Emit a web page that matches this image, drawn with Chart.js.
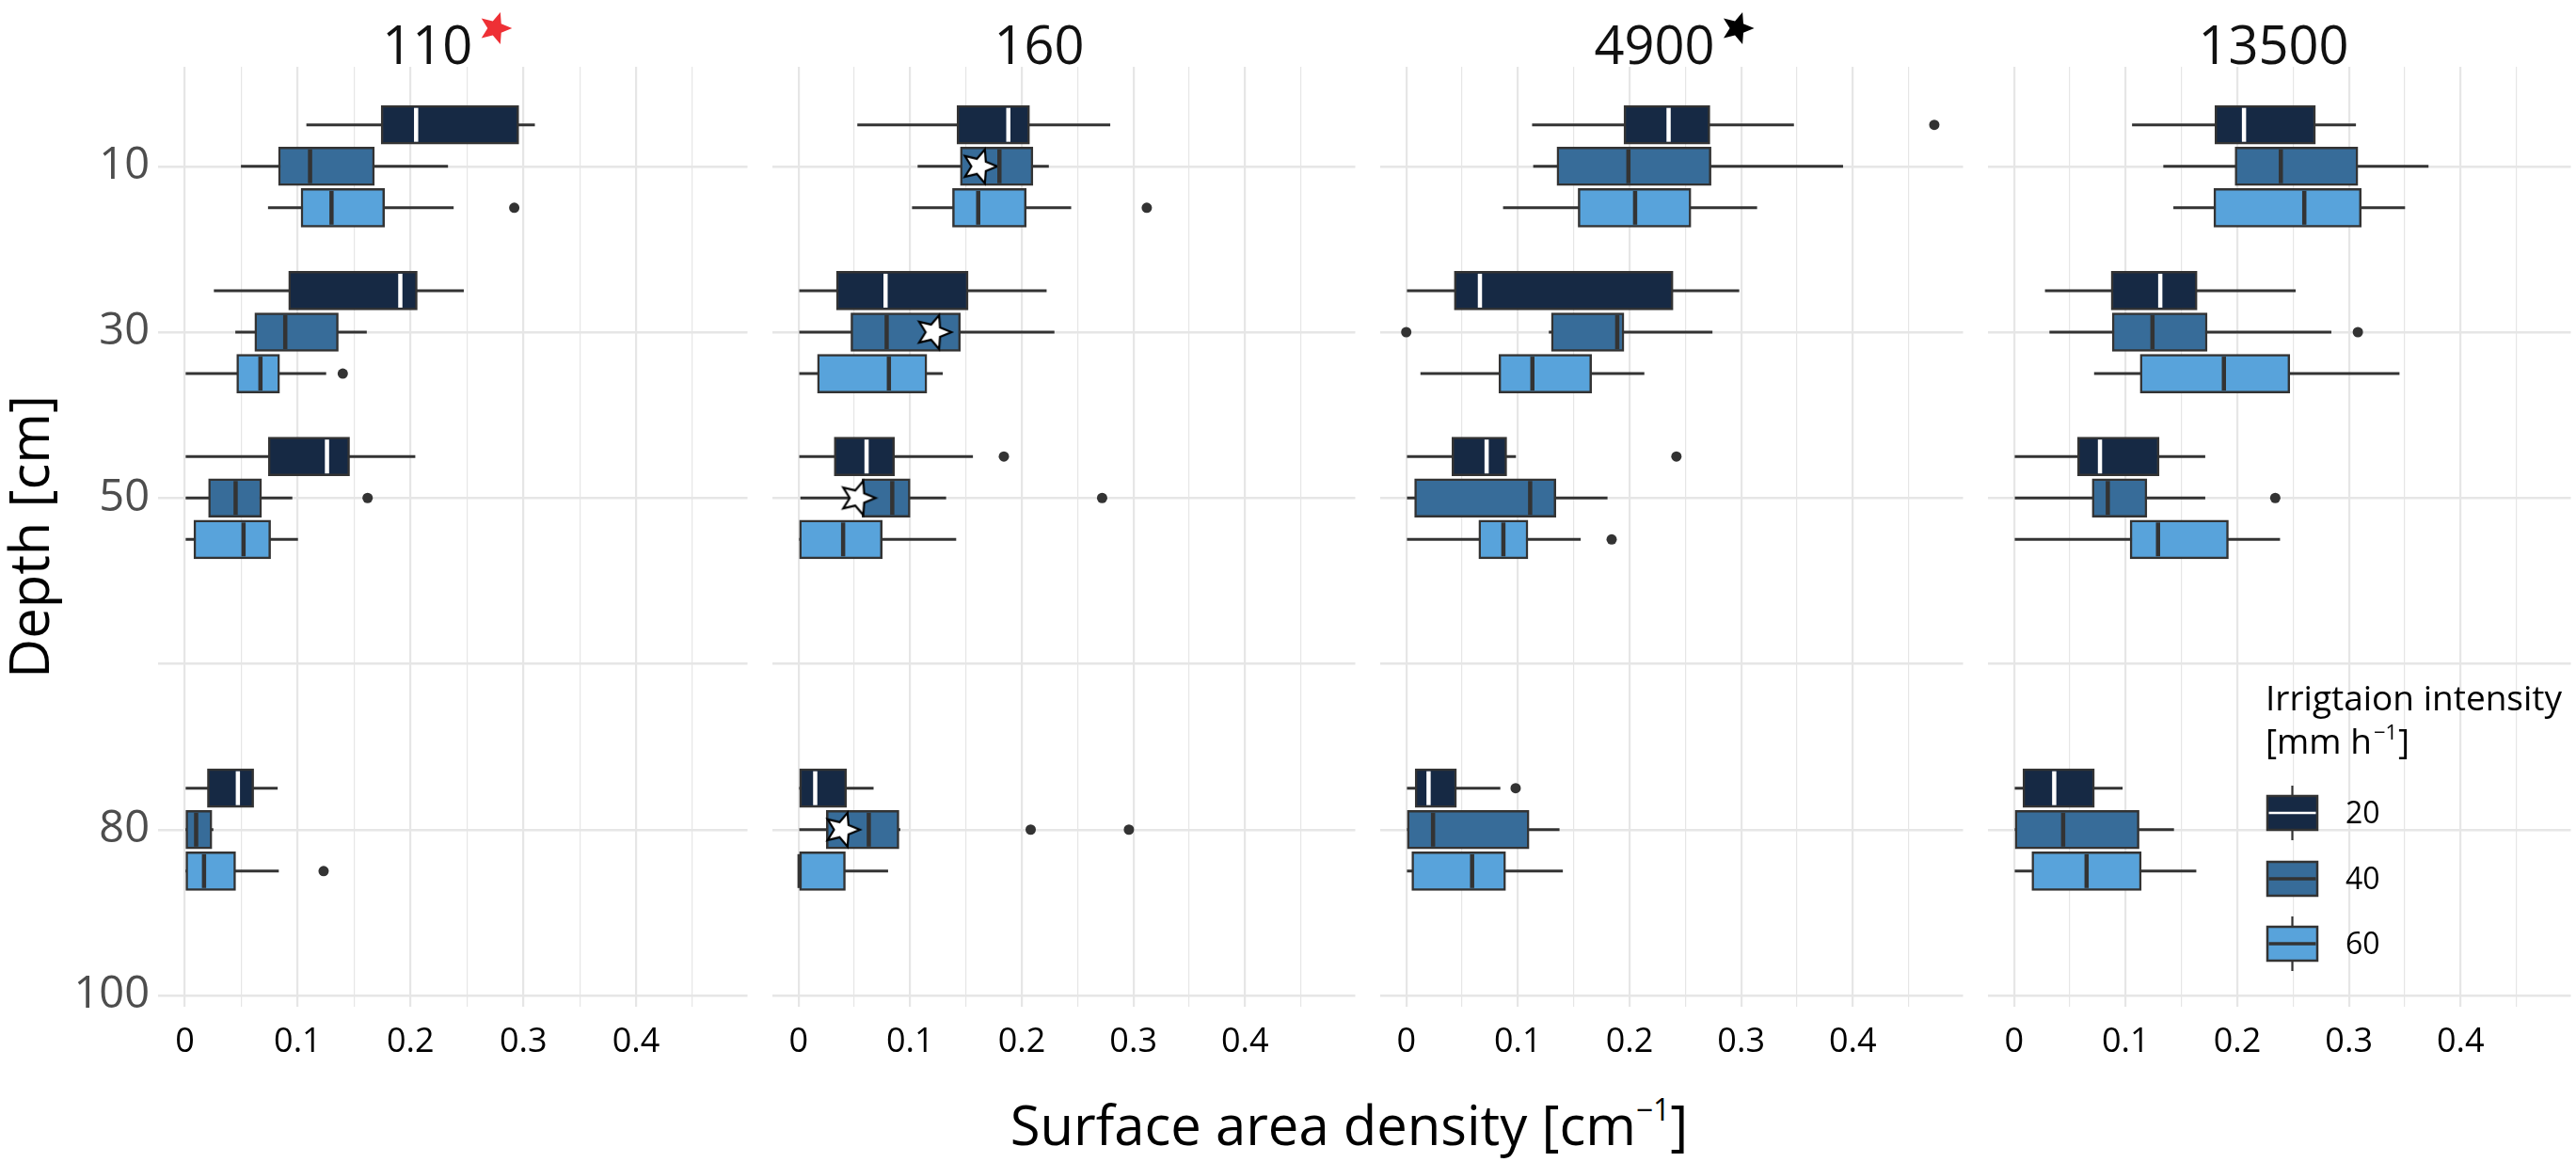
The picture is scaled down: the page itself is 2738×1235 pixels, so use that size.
<!DOCTYPE html>
<html>
<head>
<meta charset="UTF-8">
<title>Surface area density by depth</title>
<script src="https://cdn.jsdelivr.net/npm/chart.js@4.4.1/dist/chart.umd.min.js"></script>
<style>
  body { margin: 0; background: #fff; }
  #wrap { position: relative; width: 2738px; height: 1235px; overflow: hidden; font-family: 'Open Sans', 'DejaVu Sans', sans-serif; }
  #wrap canvas { position: absolute; top: 0; }
  #xTitle { position: absolute; left: 1434px; top: 1166px; transform: translateX(-50%); white-space: nowrap;
            font-size: 58px; line-height: 58px; color: #000; }
  #xTitle sup { font-size: 0.55em; line-height: 0; vertical-align: 0.8em; }
</style>
</head>
<body>
<div id="wrap">
  <div id="xTitle">Surface area density [cm<sup>−1</sup>]</div>
</div>

<script>
// ---- data -------------------------------------------------------------
const panelNames = ['110', '160', '4900', '13500'];
const depthLabels = ['10', '30', '50', '', '80', '100'];   // rows of the y axis
const depthRows = [0, 1, 2, 4];                           // row used by depths 10, 30, 50, 80
const intensities = ['20', '40', '60'];
const xTicks = [0, 0.05, 0.1, 0.15, 0.2, 0.25, 0.3, 0.35, 0.4, 0.45];
const xTickText = ['0', '', '0.1', '', '0.2', '', '0.3', '', '0.4', ''];

// [lower whisker, Q1, median, Q3, upper whisker] for depths 10, 30, 50, 80
const box110_20 = [[0.108, 0.174, 0.205, 0.296, 0.310], [0.026, 0.092, 0.191, 0.206, 0.247], [0.001, 0.074, 0.126, 0.146, 0.204], [0.001, 0.020, 0.047, 0.061, 0.082]];
const box110_40 = [[0.050, 0.083, 0.111, 0.168, 0.233], [0.045, 0.062, 0.089, 0.136, 0.161], [0.001, 0.021, 0.045, 0.068, 0.095], [0.000, 0.000, 0.010, 0.024, 0.025]];
const box110_60 = [[0.074, 0.103, 0.130, 0.177, 0.238], [0.001, 0.046, 0.067, 0.084, 0.125], [0.001, 0.008, 0.052, 0.076, 0.100], [0.000, 0.000, 0.017, 0.045, 0.083]];

const box160_20 = [[0.053, 0.142, 0.188, 0.207, 0.279], [0.001, 0.034, 0.078, 0.152, 0.222], [0.001, 0.032, 0.061, 0.086, 0.156], [0.000, 0.001, 0.015, 0.043, 0.067]];
const box160_40 = [[0.107, 0.145, 0.180, 0.210, 0.224], [0.001, 0.047, 0.079, 0.145, 0.229], [0.002, 0.057, 0.084, 0.100, 0.132], [0.001, 0.025, 0.063, 0.090, 0.091]];
const box160_60 = [[0.102, 0.138, 0.161, 0.204, 0.244], [0.001, 0.017, 0.081, 0.115, 0.129], [0.000, 0.000, 0.040, 0.075, 0.141], [0.000, 0.000, 0.001, 0.042, 0.080]];

const box4900_20 = [[0.113, 0.195, 0.235, 0.272, 0.347], [0.000, 0.043, 0.066, 0.239, 0.298], [0.000, 0.041, 0.072, 0.090, 0.098], [0.000, 0.008, 0.020, 0.045, 0.084]];
const box4900_40 = [[0.114, 0.135, 0.199, 0.273, 0.391], [0.128, 0.130, 0.189, 0.195, 0.274], [0.000, 0.0075, 0.111, 0.134, 0.180], [0.000, 0.000, 0.024, 0.110, 0.137]];
const box4900_60 = [[0.087, 0.154, 0.205, 0.255, 0.314], [0.013, 0.083, 0.113, 0.166, 0.213], [0.000, 0.065, 0.087, 0.109, 0.156], [0.000, 0.005, 0.059, 0.089, 0.140]];

const box13500_20 = [[0.106, 0.180, 0.206, 0.270, 0.306], [0.028, 0.087, 0.131, 0.164, 0.252], [0.000, 0.057, 0.077, 0.130, 0.171], [0.000, 0.008, 0.036, 0.072, 0.097]];
const box13500_40 = [[0.134, 0.198, 0.239, 0.308, 0.371], [0.032, 0.088, 0.124, 0.173, 0.284], [0.001, 0.070, 0.084, 0.119, 0.171], [0.000, 0.001, 0.044, 0.112, 0.143]];
const box13500_60 = [[0.143, 0.179, 0.260, 0.311, 0.350], [0.072, 0.113, 0.188, 0.247, 0.345], [0.000, 0.104, 0.129, 0.192, 0.238], [0.000, 0.016, 0.065, 0.114, 0.163]];

// outliers: [intensity index, depth index, value]
const out110 = [[1, 2, 0.162], [2, 0, 0.292], [2, 1, 0.140], [2, 3, 0.123]];
const out160 = [[0, 2, 0.184], [1, 2, 0.272], [1, 3, 0.208], [1, 3, 0.296], [2, 0, 0.312]];
const out4900 = [[0, 0, 0.473], [0, 2, 0.242], [0, 3, 0.098], [1, 1, 0.000], [2, 2, 0.184]];
const out13500 = [[1, 1, 0.308], [1, 2, 0.234]];

// star markers on the 40 mm/h boxes of panel 160, depths 10, 30, 50, 80
const star160_40 = [0.162, 0.121, 0.053, 0.039];

// ---- styling ----------------------------------------------------------
const FONT = "'Open Sans', 'DejaVu Sans', sans-serif";
Chart.defaults.font.family = FONT;
const fills = ['#162944', '#376c99', '#58a3db'];
const medianColors = ['#ffffff', '#333333', '#333333'];
const ink = '#333333';
const gridColor = '#e6e6e6';
const dodge = 0.25;

const panels = [
  { name: panelNames[0], boxes: [box110_20, box110_40, box110_60], outliers: out110, stars: null, mark: '#ee3035', shift: -27 },
  { name: panelNames[1], boxes: [box160_20, box160_40, box160_60], outliers: out160, stars: star160_40, mark: null, shift: -26 },
  { name: panelNames[2], boxes: [box4900_20, box4900_40, box4900_60], outliers: out4900, stars: null, mark: '#000000', shift: -18 },
  { name: panelNames[3], boxes: [box13500_20, box13500_40, box13500_60], outliers: out13500, stars: null, mark: null, shift: -6 }
];
const frames = [[0, 800], [815, 631], [1461, 631], [2107, 631]];

function rowPos(depthIdx, groupIdx) {
  return depthRows[depthIdx] + (groupIdx - 1) * dodge;
}

function starPath(ctx, cx, cy, R, r, rot) {
  ctx.beginPath();
  for (let i = 0; i < 10; i++) {
    const a = -Math.PI / 2 + rot + i * Math.PI / 5;
    const rad = i % 2 ? r : R;
    ctx.lineTo(cx + rad * Math.cos(a), cy + rad * Math.sin(a));
  }
  ctx.closePath();
}

const starImg = document.createElement('canvas');
starImg.width = starImg.height = 44;
(function () {
  const c = starImg.getContext('2d');
  starPath(c, 22, 22, 19, 8.5, Math.PI / 10);
  c.fillStyle = '#ffffff';
  c.fill();
  c.lineWidth = 2.2;
  c.strokeStyle = '#000000';
  c.stroke();
})();

// median line inside each box
const medianLines = {
  id: 'medianLines',
  afterDatasetsDraw(chart) {
    const ctx = chart.ctx;
    const xs = chart.scales.x;
    chart.data.datasets.forEach((ds, i) => {
      if (ds.role !== 'box') return;
      chart.getDatasetMeta(i).data.forEach((bar, j) => {
        const x = xs.getPixelForValue(ds.data[j].med);
        const h = bar.height / 2 - ds.borderWidth;
        ctx.save();
        ctx.strokeStyle = ds.medianColor;
        ctx.lineWidth = 4.5;
        ctx.beginPath();
        ctx.moveTo(x, bar.y - h);
        ctx.lineTo(x, bar.y + h);
        ctx.stroke();
        ctx.restore();
      });
    });
  }
};

// strip title: number plus optional star
const panelTitle = {
  id: 'panelTitle',
  afterDraw(chart, args, o) {
    const {ctx, chartArea} = chart;
    ctx.save();
    ctx.font = '56px ' + FONT;
    ctx.fillStyle = '#111111';
    ctx.textAlign = 'center';
    ctx.textBaseline = 'alphabetic';
    const cx = (chartArea.left + chartArea.right) / 2 + o.shift;
    ctx.fillText(o.text, cx, 68);
    if (o.mark) {
      const w = ctx.measureText(o.text).width;
      starPath(ctx, cx + w / 2 + 24, 30, 18, 8, Math.PI / 10);
      ctx.fillStyle = o.mark;
      ctx.fill();
    }
    ctx.restore();
  }
};

// boxplot legend drawn over the last panel
const boxLegend = {
  id: 'boxLegend',
  afterDraw(chart, args, o) {
    if (!o.show) return;
    const ctx = chart.ctx;
    const x0 = 301;
    ctx.save();
    ctx.fillStyle = '#000';
    ctx.textAlign = 'left';
    ctx.textBaseline = 'alphabetic';
    ctx.font = '37px ' + FONT;
    ctx.fillText('Irrigtaion intensity', x0, 755);
    let t = '[mm h';
    ctx.fillText(t, x0, 801);
    let x = x0 + ctx.measureText(t).width + 2;
    ctx.font = '22px ' + FONT;
    ctx.fillText('−1', x, 786);
    x += ctx.measureText('−1').width + 1;
    ctx.font = '37px ' + FONT;
    ctx.fillText(']', x, 801);

    const keyY = [864, 934, 1003];
    intensities.forEach((lab, k) => {
      const cy = keyY[k];
      const left = 303, w = 53, h = 36;
      ctx.strokeStyle = ink;
      if (k !== 1) {
        ctx.lineWidth = 2.2;
        ctx.beginPath();
        ctx.moveTo(left + w / 2, cy - h / 2 - 11);
        ctx.lineTo(left + w / 2, cy + h / 2 + 11);
        ctx.stroke();
      }
      ctx.fillStyle = fills[k];
      ctx.fillRect(left, cy - h / 2, w, h);
      ctx.lineWidth = 2.5;
      ctx.strokeRect(left, cy - h / 2, w, h);
      ctx.strokeStyle = medianColors[k];
      ctx.lineWidth = k === 0 ? 2.5 : 3.5;
      ctx.beginPath();
      ctx.moveTo(left + 1.5, cy);
      ctx.lineTo(left + w - 1.5, cy);
      ctx.stroke();
      ctx.fillStyle = '#000';
      ctx.font = '32px ' + FONT;
      ctx.textBaseline = 'middle';
      ctx.fillText(lab, 386, cy + 2);
      ctx.textBaseline = 'alphabetic';
    });
    ctx.restore();
  }
};

function buildDatasets(p) {
  const ds = [];
  p.boxes.forEach((rows, k) => {
    ds.push({
      type: 'bar',
      data: rows.map((s, d) => ({ x: [s[0], s[4]], y: rowPos(d, k) })),
      backgroundColor: ink,
      borderWidth: 0,
      barThickness: 2.3,
      grouped: false,
      order: 3
    });
    ds.push({
      type: 'bar',
      role: 'box',
      label: intensities[k],
      data: rows.map((s, d) => ({ x: [s[1], s[3]], y: rowPos(d, k), med: s[2] })),
      backgroundColor: fills[k],
      borderColor: ink,
      borderWidth: 2.5,
      borderSkipped: false,
      barThickness: 41,
      grouped: false,
      medianColor: medianColors[k],
      order: 2
    });
  });
  ds.push({
    type: 'scatter',
    data: p.outliers.map(o => ({ x: o[2], y: rowPos(o[1], o[0]) })),
    pointRadius: 5.5,
    backgroundColor: ink,
    borderWidth: 0,
    order: 1
  });
  if (p.stars) {
    ds.push({
      type: 'scatter',
      data: p.stars.map((v, d) => ({ x: v, y: rowPos(d, 1) })),
      pointStyle: starImg,
      order: 0
    });
  }
  return ds;
}

const wrap = document.getElementById('wrap');
panels.forEach((p, idx) => {
  const first = idx === 0;
  const canvas = document.createElement('canvas');
  canvas.width = frames[idx][1];
  canvas.height = 1235;
  canvas.style.left = frames[idx][0] + 'px';
  canvas.style.width = frames[idx][1] + 'px';
  canvas.style.height = '1235px';
  wrap.appendChild(canvas);

  new Chart(canvas, {
    type: 'bar',
    data: { datasets: buildDatasets(p) },
    options: {
      indexAxis: 'y',
      responsive: false,
      animation: false,
      devicePixelRatio: 1,
      events: [],
      layout: { padding: { top: 71, left: 0, right: 0, bottom: 0 } },
      plugins: {
        legend: { display: false },
        tooltip: { enabled: false },
        panelTitle: { text: p.name, mark: p.mark, shift: p.shift },
        boxLegend: { show: idx === 3 }
      },
      scales: {
        x: {
          type: 'linear',
          min: -0.02375,
          max: 0.49875,
          offset: false,
          afterBuildTicks: s => { s.ticks = xTicks.map(v => ({ value: v })); },
          afterFit: s => { s.height = 165; },
          border: { display: false },
          grid: {
            color: gridColor,
            offset: false,
            drawTicks: false,
            lineWidth: c => (xTickText[c.index] !== '' ? 2.2 : 1.2)
          },
          ticks: {
            autoSkip: false,
            maxRotation: 0,
            padding: 16,
            color: '#000',
            font: { size: 36 },
            callback: (v, i) => xTickText[i]
          }
        },
        y: {
          type: 'linear',
          reverse: true,
          min: -0.6,
          max: 5.068,
          offset: false,
          afterBuildTicks: s => { s.ticks = depthLabels.map((_, i) => ({ value: i })); },
          afterFit: s => { s.width = first ? 168 : 0; },
          border: { display: false },
          grid: { color: gridColor, offset: false, lineWidth: 2.4, drawTicks: false },
          ticks: {
            display: first,
            autoSkip: false,
            padding: 9,
            color: '#4d4d4d',
            font: { size: 47 },
            callback: (v, i) => depthLabels[i]
          },
          title: {
            display: first,
            text: 'Depth [cm]',
            color: '#000',
            font: { size: 58, lineHeight: 1 },
            padding: { top: 6, bottom: 0 }
          }
        }
      }
    },
    plugins: [medianLines, panelTitle, boxLegend]
  });
});
</script>
</body>
</html>
